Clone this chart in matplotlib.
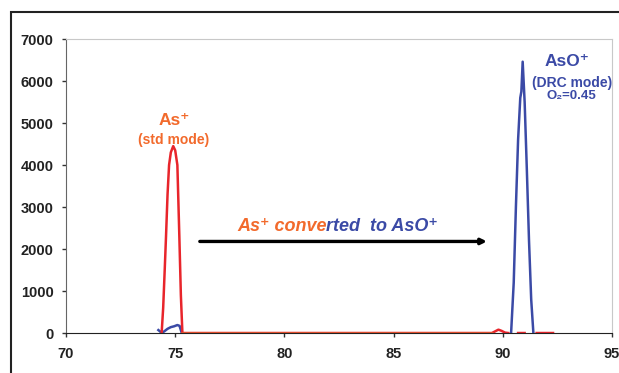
import matplotlib
matplotlib.use('Agg')
import numpy as np
from matplotlib import pyplot as plt
from matplotlib.patches import Rectangle

plt.rcParams['font.family'] = ['Liberation Sans', 'DejaVu Sans']

# red trace: As+ (std mode)
red_x = [74.38, 74.45, 74.52, 74.58, 74.65, 74.72, 74.8, 74.91, 75.0, 75.1, 75.19, 75.26, 75.33,
         76.0, 78.0, 80.0, 82.0, 84.0, 86.0, 88.0, 89.5, 89.65, 89.8, 89.95, 90.1, 90.25,
         np.nan, 90.7, 91.0, np.nan, 91.55, 92.3]
red_y = [0, 600, 1500, 2300, 3300, 4000, 4300, 4450, 4350, 4000, 2300, 900, 0,
         0, 0, 0, 0, 0, 0, 0, 0, 40, 80, 50, 10, 0,
         np.nan, 0, 0, np.nan, 0, 0]

# blue trace: AsO+ (DRC mode)
blue_x = [74.23, 74.3, 74.38, 74.5, 74.65, 74.8, 74.95, 75.1, 75.2, 75.3,
          np.nan, 90.38, 90.5, 90.6, 90.7, 90.8, 90.85, 90.91, 91.0, 91.1, 91.2, 91.3, 91.4]
blue_y = [70, 40, 0, 40, 100, 140, 160, 190, 170, 0,
          np.nan, 0, 1200, 3000, 4600, 5600, 5750, 6460, 5500, 3900, 2200, 800, 0]

x_ticks = [70, 75, 80, 85, 90, 95]
y_ticks = [0, 1000, 2000, 3000, 4000, 5000, 6000, 7000]

red = '#e8252b'
orange = '#f26a2c'
blue = '#3b4aa6'

fig = plt.figure(figsize=(6.19, 3.73), dpi=100)
ax = fig.add_axes([0.1066, 0.1072, 0.8821, 0.7882])

ax.plot(blue_x, blue_y, color=blue, lw=1.8)
ax.plot(red_x, red_y, color=red, lw=1.8)
# baseline from peak to right is orange-ish
ax.plot([75.33, 89.5], [8, 8], color='#e8602f', lw=1.8)

ax.set_xlim(70, 95)
ax.set_ylim(0, 7000)
ax.set_xticks(x_ticks)
ax.set_yticks(y_ticks)
for lab in ax.get_xticklabels() + ax.get_yticklabels():
    lab.set_fontweight('bold')
    lab.set_fontsize(10.5)
    lab.set_color('#222222')
ax.tick_params(direction='out', length=3, width=1, color='#333333')
ax.tick_params(axis='x', pad=7)
ax.tick_params(axis='y', pad=6)
for s in ['top', 'right']:
    ax.spines[s].set_color('#c8c8c8')
ax.spines['left'].set_color('#666666')
ax.spines['bottom'].set_color('#222222')

# labels
ax.text(74.95, 5050, 'As⁺', color=orange, fontsize=12.5, fontweight='bold', ha='center', va='center')
ax.text(74.95, 4600, '(std mode)', color=orange, fontsize=10, fontweight='bold', ha='center', va='center')
ax.text(92.95, 6460, 'AsO⁺', color=blue, fontsize=12.5, fontweight='bold', ha='center', va='center')
ax.text(93.17, 5960, '(DRC mode)', color=blue, fontsize=10, fontweight='bold', ha='center', va='center')
ax.text(93.15, 5640, 'O₂=0.45', color=blue, fontsize=9.5, fontweight='bold', ha='center', va='center')

ax.annotate('', xy=(89.4, 2180), xytext=(76.0, 2180),
            arrowprops=dict(arrowstyle='-|>', color='black', lw=2.4, mutation_scale=8))

# two-coloured caption
fig.canvas.draw()
renderer = fig.canvas.get_renderer()
parts = [('As⁺ conve', orange), ('rted  to AsO⁺', blue)]
x0 = 77.83
t = None
for txt, col in parts:
    if t is None:
        t = ax.text(x0, 2530, txt, color=col, fontsize=13, fontweight='bold',
                    fontstyle='italic', ha='left', va='center')
    else:
        bb = t.get_window_extent(renderer)
        xd = ax.transData.inverted().transform((bb.x1, 0))[0]
        t = ax.text(xd, 2530, txt, color=col, fontsize=13, fontweight='bold',
                    fontstyle='italic', ha='left', va='center')

# outer frame of the figure
fig.patches.append(Rectangle((11 / 619, -0.1), 1.2, 1 - 12 / 373 + 0.1,
                             transform=fig.transFigure, fill=False,
                             edgecolor='#222222', lw=1.5))

fig.savefig('out.png', dpi=100)
